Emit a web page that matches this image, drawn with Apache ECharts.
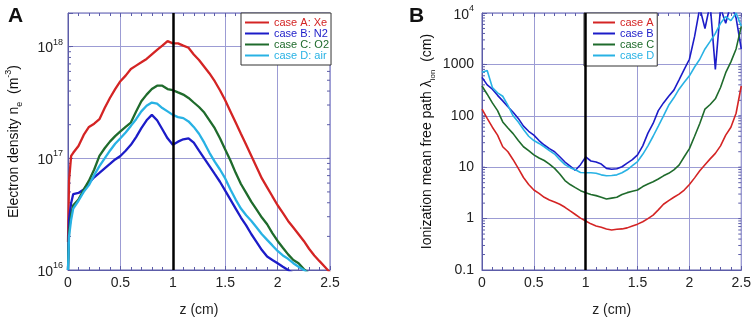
<!DOCTYPE html>
<html>
<head>
<meta charset="utf-8">
<script src="https://cdn.jsdelivr.net/npm/echarts@6/dist/echarts.min.js"></script>
<style>
  html, body { margin: 0; padding: 0; background: #fff; }
  #chart { width: 754px; height: 322px; }
</style>
</head>
<body>
<div id="chart"></div>
<script>
// panel A: electron density along z
var zA = [0, 0.01, 0.03, 0.05, 0.1, 0.15, 0.2, 0.25, 0.3, 0.35, 0.4, 0.45, 0.5, 0.55, 0.6, 0.65, 0.7, 0.75, 0.8, 0.85, 0.9, 0.95, 1, 1.05, 1.1, 1.15, 1.2, 1.25, 1.3, 1.35, 1.4, 1.45, 1.5, 1.55, 1.6, 1.65, 1.7, 1.75, 1.8, 1.85, 1.9, 1.95, 2, 2.05, 2.1, 2.15, 2.2, 2.25, 2.3, 2.35, 2.4, 2.45, 2.5];
var neXe = [1.78e16, 6.31e16, 1.05e17, 1.12e17, 1.29e17, 1.62e17, 1.91e17, 2.04e17, 2.24e17, 2.82e17, 3.47e17, 4.17e17, 4.90e17, 5.50e17, 6.31e17, 6.76e17, 7.24e17, 7.76e17, 8.51e17, 9.33e17, 1.02e18, 1.12e18, 1.07e18, 1.07e18, 1.02e18, 9.77e17, 8.51e17, 7.59e17, 6.61e17, 5.75e17, 4.90e17, 4.07e17, 3.31e17, 2.63e17, 2.09e17, 1.66e17, 1.32e17, 1.05e17, 8.32e16, 6.61e16, 5.50e16, 4.57e16, 3.80e16, 3.24e16, 2.75e16, 2.40e16, 2.09e16, 1.82e16, 1.55e16, 1.35e16, 1.20e16, 1.07e16, 9.5e15];
var neN2 = [1.0e16, 2.82e16, 3.98e16, 4.79e16, 4.90e16, 5.25e16, 6.03e16, 6.76e16, 7.41e16, 8.13e16, 8.91e16, 9.77e16, 1.05e17, 1.17e17, 1.32e17, 1.55e17, 1.86e17, 2.19e17, 2.45e17, 2.19e17, 1.82e17, 1.51e17, 1.32e17, 1.41e17, 1.48e17, 1.51e17, 1.38e17, 1.17e17, 1.0e17, 8.51e16, 7.24e16, 6.17e16, 5.13e16, 4.27e16, 3.55e16, 2.95e16, 2.51e16, 2.09e16, 1.78e16, 1.51e16, 1.32e16, 1.23e16, 1.15e16, 1.07e16, 1.0e16, 9.3e15, null, null, null, null, null, null, null];
var neO2 = [1.0e16, 2.24e16, 3.16e16, 3.80e16, 4.27e16, 5.25e16, 6.31e16, 7.94e16, 1.05e17, 1.23e17, 1.41e17, 1.58e17, 1.74e17, 1.91e17, 2.09e17, 2.63e17, 3.24e17, 3.72e17, 4.17e17, 4.47e17, 4.47e17, 4.17e17, 4.07e17, 3.89e17, 3.72e17, 3.47e17, 3.16e17, 2.88e17, 2.57e17, 2.19e17, 1.86e17, 1.51e17, 1.20e17, 9.55e16, 7.41e16, 5.89e16, 4.90e16, 4.07e16, 3.47e16, 2.95e16, 2.57e16, 2.14e16, 1.82e16, 1.58e16, 1.38e16, 1.23e16, 1.15e16, 1.02e16, 9.3e15, null, null, null, null];
var neAir = [1.0e16, 2.0e16, 2.82e16, 3.55e16, 4.17e16, 5.01e16, 5.75e16, 7.08e16, 8.51e16, 1.0e17, 1.17e17, 1.35e17, 1.51e17, 1.70e17, 1.95e17, 2.24e17, 2.63e17, 2.95e17, 3.16e17, 3.09e17, 2.82e17, 2.63e17, 2.45e17, 2.34e17, 2.29e17, 2.14e17, 1.91e17, 1.66e17, 1.38e17, 1.12e17, 9.33e16, 7.94e16, 6.61e16, 5.25e16, 4.27e16, 3.55e16, 3.09e16, 2.75e16, 2.40e16, 2.09e16, 1.86e16, 1.66e16, 1.48e16, 1.35e16, 1.26e16, 1.15e16, 1.07e16, 1.0e16, 9.3e15, null, null, null, null];

// panel B: ionization mean free path (cm)
var zB = [0, 0.05, 0.1, 0.15, 0.2, 0.25, 0.3, 0.35, 0.4, 0.45, 0.5, 0.55, 0.6, 0.65, 0.7, 0.75, 0.8, 0.85, 0.9, 0.95, 1, 1.05, 1.1, 1.15, 1.2, 1.25, 1.3, 1.35, 1.4, 1.45, 1.5, 1.55, 1.6, 1.65, 1.7, 1.75, 1.8, 1.85, 1.9, 1.95, 2, 2.05, 2.1, 2.15, 2.2, 2.25, 2.3, 2.35, 2.4, 2.45, 2.5];
var lamA = [135, 89, 60, 42, 25, 20, 14, 9.5, 6.3, 4.6, 3.6, 3.1, 2.6, 2.3, 2.1, 1.9, 1.66, 1.41, 1.2, 1.02, 0.90, 0.79, 0.72, 0.68, 0.63, 0.60, 0.62, 0.63, 0.66, 0.72, 0.78, 0.87, 1.0, 1.17, 1.48, 1.9, 2.24, 2.6, 3.0, 3.6, 4.6, 6.2, 8.5, 11.2, 14.5, 18.6, 26, 42, 60, 112, 380];
var lamB = [560, 400, 330, 250, 195, 150, 117, 89, 63, 50, 42, 33, 27, 23, 20, 16, 12.6, 10.5, 8.7, 11.2, 15.8, 13.2, 12.6, 11.5, 9.5, 9.1, 9.3, 10.2, 12, 14, 17.4, 26, 46, 71, 126, 178, 240, 316, 500, 800, 1260, 3500, 12600, 5000, 15000, 800, 12600, 6300, 15000, 8000, 2000];
var lamC = [380, 263, 178, 126, 76, 58, 45, 33, 25, 21, 17.4, 15.1, 13.5, 11.5, 9.5, 7.4, 5.5, 4.6, 4.0, 3.5, 3.2, 2.95, 2.8, 2.6, 2.4, 2.5, 2.6, 2.95, 3.2, 3.4, 3.6, 4.2, 4.7, 5.2, 5.9, 6.8, 7.6, 8.9, 11, 16, 23, 40, 71, 135, 166, 214, 355, 690, 1120, 2000, 5500];
var lamD = [700, 760, 355, 280, 240, 160, 100, 76, 54, 40, 33, 29, 25, 21, 18, 14, 11.2, 9.8, 8.9, 7.9, 7.8, 7.8, 7.6, 7.1, 6.8, 6.9, 7.1, 7.8, 8.9, 10.7, 12.9, 17.8, 26, 40, 63, 100, 160, 224, 330, 450, 600, 890, 1260, 2000, 2800, 4000, 6300, 8500, 7100, 10000, 5600];

var namesA = ['case A: Xe', 'case B: N2', 'case C: O2', 'case D: air'];
var namesB = ['case A', 'case B', 'case C', 'case D'];
var colors = ['#d42424', '#1c1cc8', '#1f6b2c', '#28b2e4'];

// minor log ticks (2..9 of each decade)
var minorA = [2e16, 3e16, 4e16, 5e16, 6e16, 7e16, 8e16, 9e16, 2e17, 3e17, 4e17, 5e17, 6e17, 7e17, 8e17, 9e17];
var minorB = [0.2, 0.3, 0.4, 0.5, 0.6, 0.7, 0.8, 0.9, 2, 3, 4, 5, 6, 7, 8, 9, 20, 30, 40, 50, 60, 70, 80, 90, 200, 300, 400, 500, 600, 700, 800, 900, 2000, 3000, 4000, 5000, 6000, 7000, 8000, 9000];

var gridColor = '#9c9cd4';
var boxColor = '#5c5ca8';
var font = 'Liberation Sans, Arial, sans-serif';

function pairs(xs, ys) {
  return xs.map(function (x, i) { return [x, ys[i]]; });
}

function powLabel(v) {
  var e = Math.log10(v);
  var r = Math.round(e);
  if (Math.abs(e - r) > 0.01) return '';
  return '{b|10}{s|' + r + '}';
}

function lamLabel(v) {
  var r = Math.round(Math.log10(v));
  if (Math.abs(Math.log10(v) - r) > 0.01) return '';
  if (r === 4) return '{b|10}{s|4}';
  return String(Number(v.toPrecision(2)));
}

function tickSeries(xi, yi, ticks) {
  return {
    type: 'custom',
    xAxisIndex: xi,
    yAxisIndex: yi,
    silent: true,
    clip: false,
    data: ticks.map(function (v) { return [0, v]; }),
    renderItem: function (params, api) {
      var cs = params.coordSys;
      var y = api.coord([0, api.value(1)])[1];
      var st = { stroke: boxColor, lineWidth: 1 };
      return {
        type: 'group',
        children: [
          { type: 'line', shape: { x1: cs.x, y1: y, x2: cs.x + 3, y2: y }, style: st },
          { type: 'line', shape: { x1: cs.x + cs.width - 3, y1: y, x2: cs.x + cs.width, y2: y }, style: st }
        ]
      };
    }
  };
}

function xAxes(gi) {
  return [{
    type: 'value', gridIndex: gi, min: 0, max: 2.5, interval: 0.5,
    axisLine: { lineStyle: { color: boxColor } },
    axisTick: { inside: true, length: 4, lineStyle: { color: boxColor } },
    minorTick: { show: true, splitNumber: 5, length: 3, lineStyle: { color: boxColor } },
    splitLine: { show: true, lineStyle: { color: gridColor, width: 1 } },
    axisLabel: { margin: 6, fontSize: 14, color: '#222', fontFamily: font },
    name: 'z (cm)', nameLocation: 'middle', nameGap: 33,
    nameTextStyle: { fontSize: 14, color: '#222', fontFamily: font }
  }, {
    type: 'value', gridIndex: gi, min: 0, max: 2.5, interval: 0.5, position: 'top',
    axisLine: { show: false },
    axisTick: { inside: true, length: 4, lineStyle: { color: boxColor } },
    minorTick: { show: true, splitNumber: 5, length: 3, lineStyle: { color: boxColor } },
    splitLine: { show: false },
    axisLabel: { show: false }
  }];
}

var supRich = {
  b: { fontSize: 14, color: '#222', fontFamily: font, lineHeight: 18, verticalAlign: 'bottom' },
  s: { fontSize: 9, color: '#222', fontFamily: font, lineHeight: 18, verticalAlign: 'top' }
};

function lineSeries(name, xi, yi, data, color, width, withMark) {
  var s = {
    name: name, type: 'line', xAxisIndex: xi, yAxisIndex: yi,
    data: data, showSymbol: false, symbol: 'none',
    lineStyle: { color: color, width: width }, itemStyle: { color: color },
    clip: true, animation: false
  };
  if (withMark) {
    s.markLine = {
      silent: true, symbol: ['none', 'none'], label: { show: false },
      lineStyle: { color: '#000', width: 2.5, type: 'solid' },
      data: [{ xAxis: 1 }]
    };
  }
  return s;
}

var chart = echarts.init(document.getElementById('chart'));
chart.setOption({
  animation: false,
  backgroundColor: '#fff',
  textStyle: { fontFamily: font },
  title: [
    { text: 'A', left: 3, top: 1, textStyle: { fontSize: 21, fontWeight: 'bold', color: '#111', fontFamily: font } },
    { text: 'B', left: 404, top: 1, textStyle: { fontSize: 21, fontWeight: 'bold', color: '#111', fontFamily: font } }
  ],
  grid: [
    { left: 68, top: 13, width: 262, height: 260, show: true, borderColor: boxColor, borderWidth: 1, containLabel: false },
    { left: 482, top: 13, width: 261, height: 260, show: true, borderColor: boxColor, borderWidth: 1, containLabel: false }
  ],
  legend: [{
    data: namesA.map(function (n, i) { return { name: n, textStyle: { color: colors[i] } }; }),
    orient: 'vertical', left: 241, top: 13, icon: 'rect', itemWidth: 24, itemHeight: 2, itemGap: 0,
    padding: [4, 2, 4, 4], backgroundColor: '#fff', borderColor: '#333', borderWidth: 1, borderRadius: 0,
    textStyle: { fontSize: 11, lineHeight: 11, fontFamily: font }
  }, {
    data: namesB.map(function (n, i) { return { name: n, textStyle: { color: colors[i] } }; }),
    orient: 'vertical', left: 584, top: 13, icon: 'rect', itemWidth: 22, itemHeight: 2, itemGap: 0,
    padding: [4, 3, 5, 9], backgroundColor: '#fff', borderColor: '#333', borderWidth: 1, borderRadius: 0,
    textStyle: { fontSize: 11, lineHeight: 11, fontFamily: font }
  }],
  xAxis: xAxes(0).concat(xAxes(1)),
  yAxis: [{
    type: 'log', gridIndex: 0, min: 1e16, max: 2e18, logBase: 10,
    axisLine: { lineStyle: { color: boxColor } },
    axisTick: { inside: true, length: 5, lineStyle: { color: boxColor } },
    splitLine: { show: true, lineStyle: { color: gridColor, width: 1 } },
    axisLabel: { margin: 5, formatter: powLabel, rich: supRich },
    name: 'Electron density n{sub|e}  (m{sup|-3})', nameLocation: 'middle', nameGap: 44, nameRotate: 90,
    nameTextStyle: {
      fontSize: 14, color: '#111', fontFamily: font, lineHeight: 20,
      rich: {
        sub: { fontSize: 9, color: '#111', fontFamily: font, lineHeight: 20, verticalAlign: 'bottom' },
        sup: { fontSize: 9, color: '#111', fontFamily: font, lineHeight: 20, verticalAlign: 'top' }
      }
    }
  }, {
    type: 'log', gridIndex: 1, min: 0.1, max: 1e4, logBase: 10,
    axisLine: { lineStyle: { color: boxColor } },
    axisTick: { inside: true, length: 5, lineStyle: { color: boxColor } },
    splitLine: { show: true, lineStyle: { color: gridColor, width: 1 } },
    axisLabel: { margin: 8, formatter: lamLabel, fontSize: 14, color: '#222', fontFamily: font, rich: supRich },
    name: 'Ionization mean free path λ{sub|ion}  (cm)', nameLocation: 'middle', nameGap: 45, nameRotate: 90,
    nameTextStyle: {
      fontSize: 14, color: '#111', fontFamily: font, lineHeight: 20,
      rich: {
        sub: { fontSize: 8, color: '#111', fontFamily: font, lineHeight: 20, verticalAlign: 'bottom' }
      }
    }
  }],
  series: [
    lineSeries(namesA[0], 0, 0, pairs(zA, neXe), colors[0], 2.3, true),
    lineSeries(namesA[1], 0, 0, pairs(zA, neN2), colors[1], 2.3, false),
    lineSeries(namesA[2], 0, 0, pairs(zA, neO2), colors[2], 2.3, false),
    lineSeries(namesA[3], 0, 0, pairs(zA, neAir), colors[3], 2.3, false),
    lineSeries(namesB[0], 2, 1, pairs(zB, lamA), colors[0], 1.6, true),
    lineSeries(namesB[1], 2, 1, pairs(zB, lamB), colors[1], 1.6, false),
    lineSeries(namesB[2], 2, 1, pairs(zB, lamC), colors[2], 1.6, false),
    lineSeries(namesB[3], 2, 1, pairs(zB, lamD), colors[3], 1.6, false),
    tickSeries(0, 0, minorA.concat([1e17, 1e18])),
    tickSeries(2, 1, minorB.concat([1, 10, 100, 1000]))
  ]
});
</script>
</body>
</html>
